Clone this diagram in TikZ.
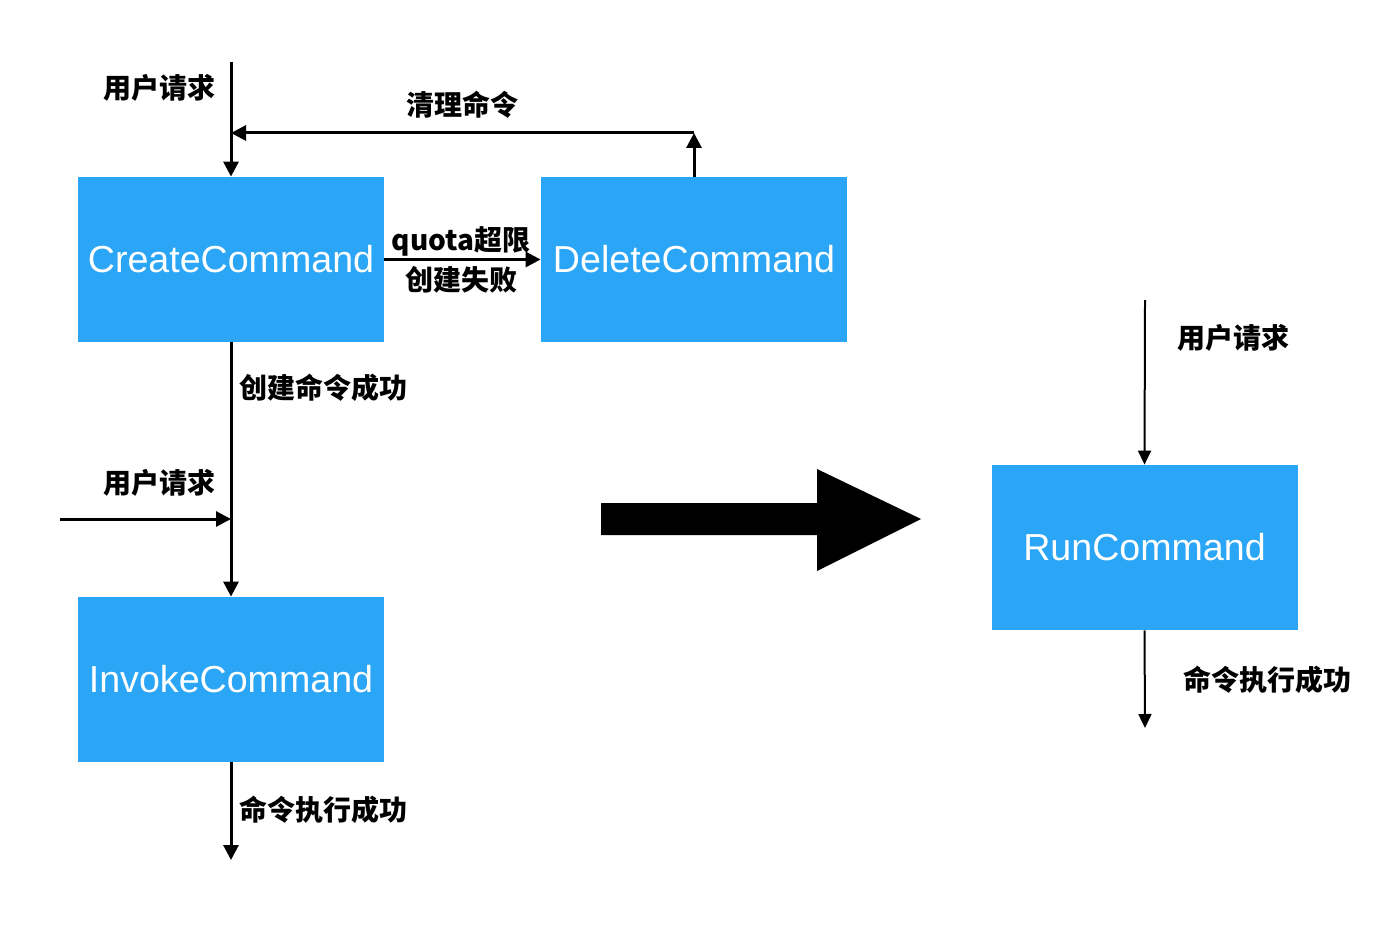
\documentclass[tikz,border=0pt]{standalone}
\usepackage{fontspec}
\setmainfont{Liberation Sans}
\newfontfamily\cjk{Noto Sans CJK SC}
\usetikzlibrary{arrows.meta}
\definecolor{boxblue}{RGB}{43,165,245}
\tikzset{
  cmd/.style={fill=boxblue, draw=none, text=white, minimum width=153pt, minimum height=82.5pt, inner sep=0pt, font=\fontsize{18.8}{22}\selectfont},
  lbl/.style={inner sep=0pt, font=\cjk\bfseries\fontsize{14}{16}\selectfont},
  arr/.style={line width=1.5pt, -{Triangle[length=7.5pt,width=7.5pt]}},
  arrthin/.style={line width=1pt, -{Triangle[length=7pt,width=6.5pt]}},
}
\begin{document}
\begin{tikzpicture}[x=0.5pt,y=-0.5pt]
\useasboundingbox (0,0) rectangle (1400,925);
% boxes
\node[cmd] (create) at (231,259.5) {CreateCommand};
\node[cmd] (delete) at (694,259.5) {DeleteCommand};
\node[cmd] (invoke) at (231,679.5) {InvokeCommand};
\node[cmd] (run) at (1144.5,547.5) {RunCommand};
% coordinates
\coordinate (tin) at (231,62);
\coordinate (corner) at (694,133);
\coordinate (leftj) at (231,133);
\coordinate (sin) at (60,519);
\coordinate (sj) at (231,519);
\coordinate (iout) at (231,860);
\coordinate (rin) at (1145,300);
\coordinate (rout) at (1145,728);
% connectors
\draw[arr] (tin) -- (create.north);
\draw[arr] (delete.north) -- (corner);
\draw[arr] (corner) -- (leftj);
\draw[arr] (create.east) -- (delete.west);
\draw[arr] (create.south) -- (invoke.north);
\draw[arr] (sin) -- (sj);
\draw[arr] (invoke.south) -- (iout);
\draw[arrthin] (rin) -- (run.north);
\draw[arrthin] (run.south) -- (rout);
% big arrow
\fill[black] (601,503) -- (817,503) -- (817,469) -- (921,519) -- (817,571) -- (817,535) -- (601,535) -- cycle;
% labels
\node[lbl] (l1) at (159,88) {用户请求};
\node[lbl] (l2) at (462,105) {清理命令};
\node[lbl] (l3) at (461,241) {quota超限};
\node[lbl] (l4) at (461,280) {创建失败};
\node[lbl, anchor=west] (l5) at (239,388) {创建命令成功};
\node[lbl] (l6) at (159,483) {用户请求};
\node[lbl, anchor=west] (l7) at (239,810) {命令执行成功};
\node[lbl, anchor=west] (l8) at (1177,338) {用户请求};
\node[lbl, anchor=west] (l9) at (1183,680) {命令执行成功};
\end{tikzpicture}
\end{document}
